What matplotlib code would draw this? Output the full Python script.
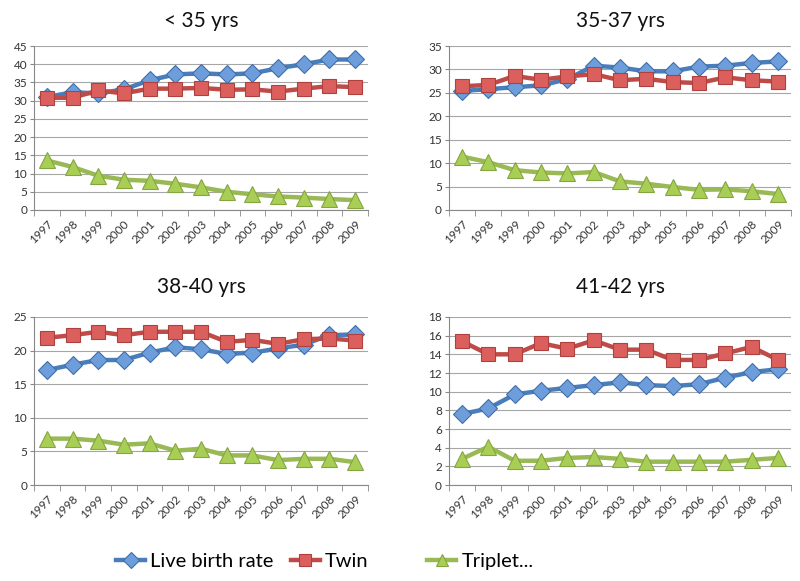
import matplotlib
matplotlib.use("Agg")
import matplotlib.pyplot as plt
from matplotlib.lines import Line2D

plt.rcParams['font.family'] = ['Lato', 'DejaVu Sans']

years = ['1997', '1998', '1999', '2000', '2001', '2002', '2003', '2004', '2005', '2006', '2007', '2008', '2009']
titles = ['< 35 yrs', '35-37 yrs', '38-40 yrs', '41-42 yrs']

live_lt35 = [31.0, 32.3, 32.0, 33.1, 35.6, 37.2, 37.5, 37.2, 37.5, 38.9, 40.0, 41.3, 41.3]
twin_lt35 = [30.8, 30.8, 32.8, 32.0, 33.3, 33.3, 33.5, 33.0, 33.1, 32.5, 33.3, 34.0, 33.7]
trip_lt35 = [13.6, 11.8, 9.4, 8.3, 8.0, 7.2, 6.2, 5.0, 4.3, 3.7, 3.4, 3.0, 2.7]

live_35_37 = [25.4, 25.8, 26.2, 26.6, 27.9, 30.8, 30.4, 29.6, 29.6, 30.6, 30.8, 31.4, 31.7]
twin_35_37 = [26.4, 26.7, 28.6, 27.8, 28.5, 29.0, 27.7, 28.0, 27.3, 27.1, 28.3, 27.7, 27.4]
trip_35_37 = [11.4, 10.2, 8.5, 8.0, 7.8, 8.1, 6.1, 5.6, 4.9, 4.3, 4.4, 4.0, 3.4]

live_38_40 = [17.1, 17.9, 18.6, 18.6, 19.7, 20.5, 20.2, 19.5, 19.7, 20.3, 20.9, 22.3, 22.4]
twin_38_40 = [21.9, 22.3, 22.8, 22.3, 22.8, 22.8, 22.8, 21.3, 21.6, 21.0, 21.7, 21.8, 21.5]
trip_38_40 = [6.9, 6.9, 6.6, 6.0, 6.2, 5.1, 5.4, 4.4, 4.4, 3.7, 3.9, 3.9, 3.4]

live_41_42 = [7.6, 8.2, 9.7, 10.1, 10.4, 10.7, 11.0, 10.7, 10.6, 10.8, 11.5, 12.1, 12.4]
twin_41_42 = [15.4, 14.0, 14.0, 15.2, 14.6, 15.5, 14.5, 14.5, 13.4, 13.4, 14.1, 14.8, 13.4]
trip_41_42 = [2.8, 4.1, 2.6, 2.6, 2.9, 3.0, 2.8, 2.5, 2.5, 2.5, 2.5, 2.7, 2.9]

ymaxes = [45, 35, 25, 18]
ysteps = [5, 5, 5, 2]

panels = [
    (live_lt35, twin_lt35, trip_lt35),
    (live_35_37, twin_35_37, trip_35_37),
    (live_38_40, twin_38_40, trip_38_40),
    (live_41_42, twin_41_42, trip_41_42),
]

positions = [
    [0.0425, 0.6386, 0.4175, 0.2822],
    [0.561, 0.6386, 0.428, 0.2822],
    [0.0425, 0.1652, 0.4175, 0.2892],
    [0.561, 0.1652, 0.428, 0.2892],
]
title_pads = [14, 14, 17, 17]

styles = [
    dict(color='#4A7EBB', marker='D', mfc='#6D9EDB', mec='#3F6EAA', ms=9),
    dict(color='#BE4B48', marker='s', mfc='#DB605D', mec='#B0403D', ms=10),
    dict(color='#98B954', marker='^', mfc='#A9CE55', mec='#85A540', ms=11),
]
labels = ['Live birth rate', 'Twin', 'Triplet...']

fig = plt.figure(figsize=(8.0, 5.81), dpi=100)
x = list(range(len(years)))
for i, (series, pos) in enumerate(zip(panels, positions)):
    ax = fig.add_axes(pos)
    for vals, st in zip(series, styles):
        ax.plot(x, vals, lw=3.2, marker=st['marker'], color=st['color'],
                mfc=st['mfc'], mec=st['mec'], ms=st['ms'], mew=0.8,
                solid_joinstyle='round', zorder=3)
    ax.set_xlim(-0.5, len(years) - 0.5)
    ax.set_ylim(0, ymaxes[i])
    ax.set_yticks(range(0, ymaxes[i] + 1, ysteps[i]))
    ax.tick_params(axis='y', labelsize=8.5, colors='#333333', length=3, color='#888888', pad=2)
    ax.set_xticks(x)
    ax.set_xticklabels(years, rotation=45, ha='right', va='top', rotation_mode='anchor', fontsize=8.5, color='#333333')
    ax.set_xticks([v - 0.5 for v in range(len(years) + 1)], minor=True)
    ax.tick_params(axis='x', which='major', length=0, pad=6)
    ax.tick_params(axis='x', which='minor', length=4, color='#888888')
    ax.grid(axis='y', color='#A6A6A6', lw=0.8)
    ax.set_axisbelow(True)
    for s in ['top', 'right']:
        ax.spines[s].set_visible(False)
    for s in ['left', 'bottom']:
        ax.spines[s].set_color('#888888')
        ax.spines[s].set_linewidth(0.8)
    ax.set_title(titles[i], fontsize=15, pad=title_pads[i], color='#111111')

handles = [Line2D([], [], lw=3.2, marker=st['marker'], color=st['color'], mfc=st['mfc'],
                  mec=st['mec'], ms=st['ms'] * 0.85, mew=0.8) for st in styles]
fig.legend(handles[:2], labels[:2], loc='center left', bbox_to_anchor=(0.145, 0.033), ncol=2,
           frameon=False, fontsize=14.5, handlelength=1.45, handletextpad=0.25, columnspacing=0.85,
           borderpad=0, borderaxespad=0)
fig.legend(handles[2:], labels[2:], loc='center left', bbox_to_anchor=(0.534, 0.033), ncol=1,
           frameon=False, fontsize=14.5, handlelength=1.45, handletextpad=0.25,
           borderpad=0, borderaxespad=0)

fig.savefig('out.png', dpi=100, facecolor='white')
